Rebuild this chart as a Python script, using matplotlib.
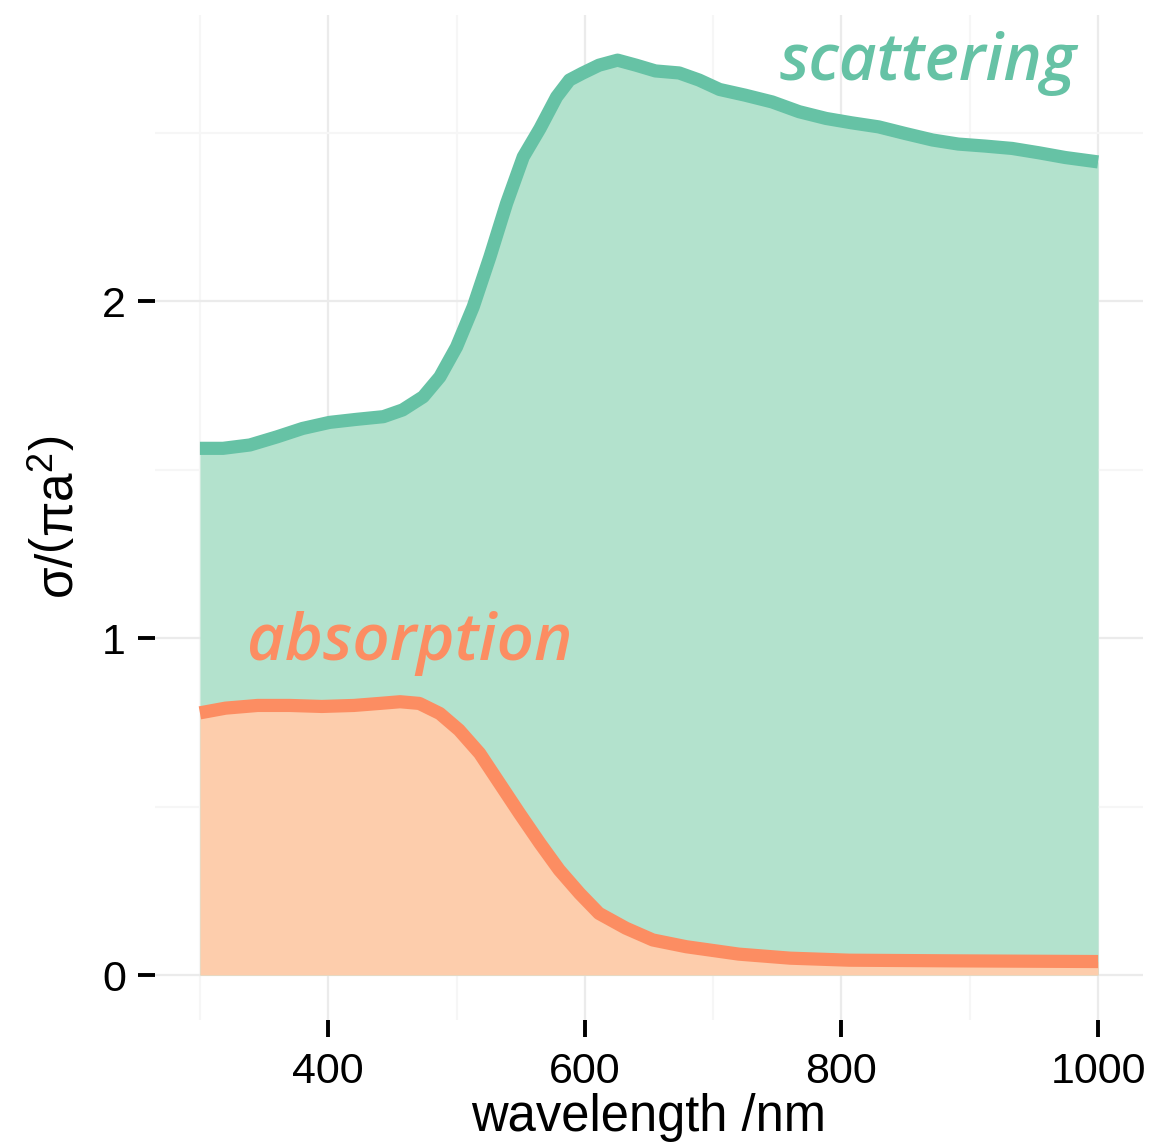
import matplotlib
matplotlib.use('Agg')
import matplotlib.pyplot as plt

plt.rcParams['font.family'] = ['Liberation Sans', 'DejaVu Sans']
plt.rcParams['mathtext.fontset'] = 'custom'
plt.rcParams['mathtext.rm'] = 'Liberation Sans'
plt.rcParams['mathtext.it'] = 'Liberation Sans'
plt.rcParams['mathtext.default'] = 'regular'

# ---- data ----
scat_wl = [300, 318, 339, 360, 380, 401, 422, 443, 458, 474, 487, 500, 513, 526,
           539, 552, 565, 578, 588, 598, 611, 625.5, 640, 655, 673.5, 689, 705,
           725, 746, 767, 788, 808, 829, 850, 871, 891, 912, 933, 954, 974.5, 1000]
scat_val = [1.563, 1.563, 1.573, 1.597, 1.622, 1.640, 1.649, 1.657, 1.677, 1.716,
            1.775, 1.864, 1.983, 2.131, 2.290, 2.428, 2.512, 2.606, 2.656, 2.676,
            2.700, 2.715, 2.700, 2.683, 2.677, 2.656, 2.628, 2.611, 2.591, 2.562,
            2.542, 2.529, 2.517, 2.497, 2.478, 2.466, 2.460, 2.453, 2.440, 2.426,
            2.413]

abs_wl = [300, 320, 345, 370, 395, 420, 440, 456, 471, 487, 502, 518, 533.5, 549,
          565, 580, 596, 611, 632, 653, 679, 720, 760, 806, 889, 1000]
abs_val = [0.778, 0.792, 0.800, 0.800, 0.797, 0.800, 0.806, 0.811, 0.806, 0.776,
           0.727, 0.658, 0.569, 0.480, 0.391, 0.312, 0.242, 0.183, 0.139, 0.104,
           0.084, 0.062, 0.050, 0.044, 0.042, 0.040]

x_major = [400, 600, 800, 1000]
x_minor = [300, 500, 700, 900]
y_major = [0, 1, 2]
y_minor = [0.5, 1.5, 2.5]

col_scat_line = '#66c2a5'
col_scat_fill = '#b3e2cd'
col_abs_line = '#fc8d62'
col_abs_fill = '#fdcdac'

W, H = 1176, 1146
fig = plt.figure(figsize=(W / 100, H / 100), dpi=100)
ax = fig.add_axes([155 / W, 1 - 1020 / H, (1143 - 155) / W, (1020 - 15) / H])

ax.fill_between(scat_wl, 0, scat_val, color=col_scat_fill, lw=0, zorder=2)
ax.fill_between(abs_wl, 0, abs_val, color=col_abs_fill, lw=0, zorder=3)
ax.plot(scat_wl, scat_val, color=col_scat_line, lw=9.5,
        solid_capstyle='butt', solid_joinstyle='round', zorder=4)
ax.plot(abs_wl, abs_val, color=col_abs_line, lw=9.5,
        solid_capstyle='butt', solid_joinstyle='round', zorder=5)

ax.set_xlim(265, 1035)
ax.set_ylim(-0.1335, 2.849)

for s in ax.spines.values():
    s.set_visible(False)

ax.set_xticks(x_major)
ax.set_xticks(x_minor, minor=True)
ax.set_yticks(y_major)
ax.set_yticks(y_minor, minor=True)
ax.set_xticklabels([str(v) for v in x_major])
ax.set_yticklabels([str(v) for v in y_major])

ax.set_axisbelow(True)
ax.grid(which='major', color='#ebebeb', lw=1.6)
ax.grid(which='minor', color='#f6f6f6', lw=1.6)

ax.tick_params(which='major', length=12, width=2.8, color='black',
               labelsize=31, labelcolor='black')
ax.tick_params(axis='x', which='major', pad=11)
ax.tick_params(axis='y', which='major', pad=9)
ax.tick_params(which='minor', length=0)

ax.set_xlabel('wavelength /nm', fontsize=36.5, labelpad=1)
ax.set_ylabel(r'$\sigma/\left(\pi a^{2}\right)$', fontsize=37, labelpad=12)

ax.text(983, 2.656, 'scattering', color=col_scat_line, fontsize=47,
        family='Open Sans', style='italic', weight='semibold',
        ha='right', va='baseline', zorder=6)
ax.text(336.6, 0.935, 'absorption', color=col_abs_line, fontsize=47,
        family='Open Sans', style='italic', weight='semibold',
        ha='left', va='baseline', zorder=6)

fig.savefig('out.png', dpi=100)
